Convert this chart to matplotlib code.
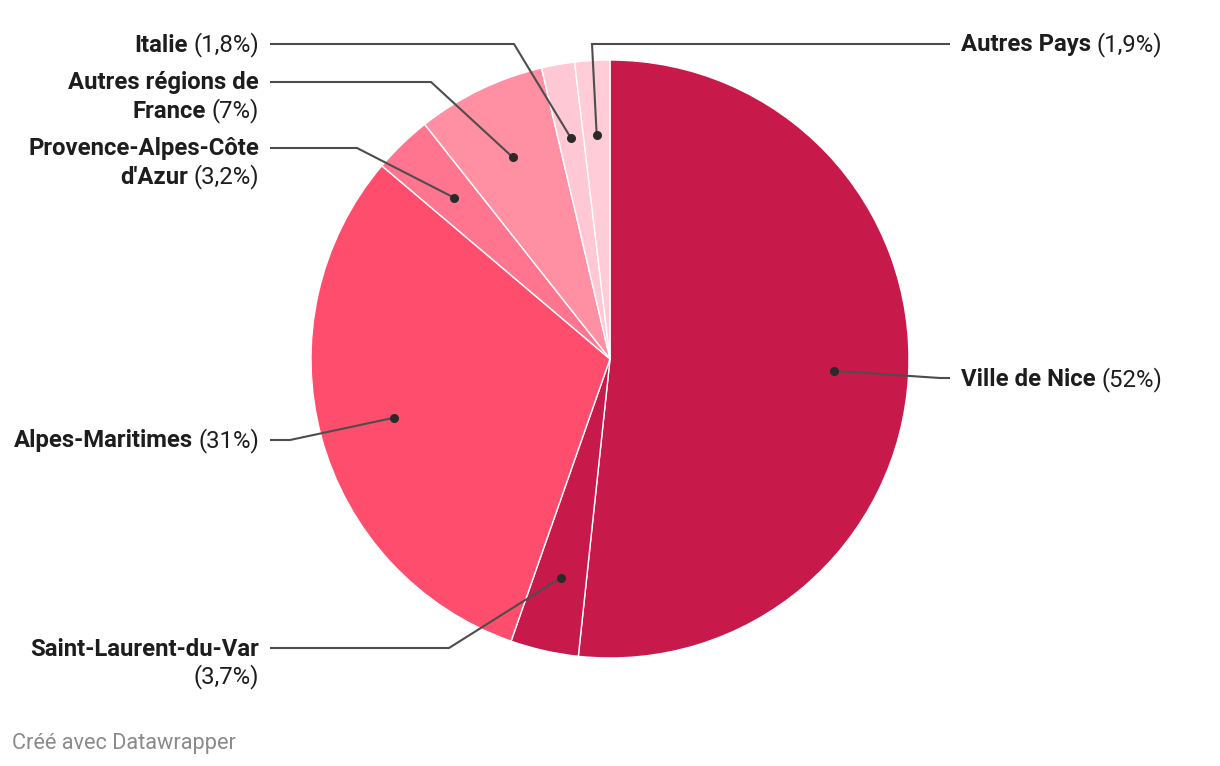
import matplotlib
matplotlib.use("Agg")
import matplotlib.pyplot as plt
import numpy as np

plt.rcParams['font.family'] = ['Roboto', 'DejaVu Sans']

categories = ["Ville de Nice", "Saint-Laurent-du-Var", "Alpes-Maritimes",
              "Provence-Alpes-Côte d'Azur", "Autres régions de France",
              "Italie", "Autres Pays"]
values = [52, 3.7, 31, 3.2, 7, 1.8, 1.9]
pct_labels = ["(52%)", "(3,7%)", "(31%)", "(3,2%)", "(7%)", "(1,8%)", "(1,9%)"]
colors = ["#c8194b", "#c8194b", "#ff4d6d", "#ff7590", "#ff8fa3", "#ffc8d4", "#ffccd8"]

W, H = 1220, 766
fig = plt.figure(figsize=(W / 100, H / 100), dpi=100)
ax = fig.add_axes([0, 0, 1, 1])

def Y(y):
    return H - y

cx, cy, R = 610, Y(359), 299
ax.pie(values, colors=colors, startangle=90, counterclock=False,
       center=(cx, cy), radius=R,
       wedgeprops=dict(edgecolor="white", linewidth=1))
ax.set_xlim(0, W)
ax.set_ylim(0, H)
ax.set_aspect("equal")
ax.axis("off")

# dot positions from data
total = sum(values)
cum = np.cumsum([0] + values[:-1])
mids = [90 - 360 * (c + v / 2) / total for c, v in zip(cum, values)]
dots = [(cx + 0.75 * R * np.cos(np.radians(m)), cy + 0.75 * R * np.sin(np.radians(m)))
        for m in mids]

line_col = "#4d4d4d"
txt_col = "#1d1d1d"
FS = 17.2
LH = 28  # line height in px
GAP = 5.5

renderer = fig.canvas.get_renderer()

def width_of(t):
    bb = t.get_window_extent(renderer=renderer)
    return bb.width

def draw_line_parts(x, y, parts, ha):
    if ha == "right":
        xx = x
        for txt, wt in reversed(parts):
            t = ax.text(xx, Y(y), txt, fontsize=FS, fontweight=wt, color=txt_col,
                        ha="right", va="center")
            xx -= width_of(t) + GAP
    else:
        xx = x
        for txt, wt in parts:
            t = ax.text(xx, Y(y), txt, fontsize=FS, fontweight=wt, color=txt_col,
                        ha="left", va="center")
            xx += width_of(t) + GAP

layout = [
    (0, "right", [[("Ville de Nice", "bold"), (pct_labels[0], "normal")]], 380, (940, 378)),
    (1, "left", [[("Saint-Laurent-du-Var", "bold")], [(pct_labels[1], "normal")]], 649, (449, 648)),
    (2, "left", [[("Alpes-Maritimes", "bold"), (pct_labels[2], "normal")]], 441, (290, 440)),
    (3, "left", [[("Provence-Alpes-Côte", "bold")], [("d'Azur", "bold"), (pct_labels[3], "normal")]], 149, (357, 148)),
    (4, "left", [[("Autres régions de", "bold")], [("France", "bold"), (pct_labels[4], "normal")]], 83, (431, 82)),
    (5, "left", [[("Italie", "bold"), (pct_labels[5], "normal")]], 45, (514, 44)),
    (6, "right", [[("Autres Pays", "bold"), (pct_labels[6], "normal")]], 45, (592, 44)),
]

for idx, side, lines, y0, elbow in layout:
    dx, dy = dots[idx]
    ex, ey = elbow
    if side == "left":
        x_text, x_line = 259, 270
    else:
        x_text, x_line = 961, 950
    ax.plot([x_line, ex, dx], [Y(ey), Y(ey), dy], color=line_col, lw=1.5,
            solid_capstyle="butt", solid_joinstyle="miter", zorder=3)
    ax.plot([dx], [dy], "o", color="#2a2a2a", ms=5.5, zorder=4)
    ha = "right" if side == "left" else "left"
    for k, parts in enumerate(lines):
        draw_line_parts(x_text, y0 + k * LH, parts, ha)

ax.text(12, Y(743), "Créé avec Datawrapper", fontsize=15.7, color="#8a8a8a",
        ha="left", va="center")

fig.savefig("out.png", dpi=100)
